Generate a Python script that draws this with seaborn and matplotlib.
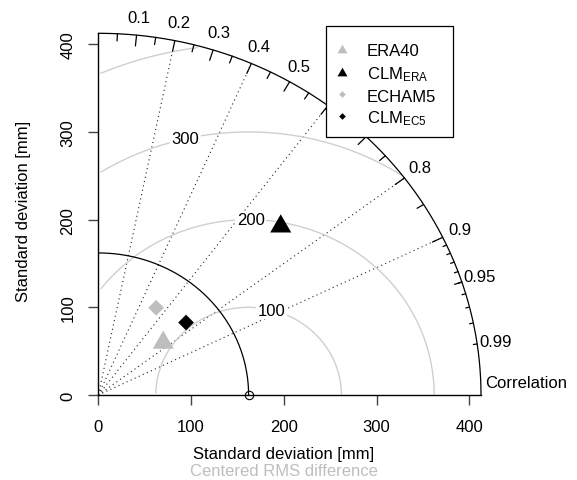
import numpy as np
import pandas as pd
import matplotlib
matplotlib.use("Agg")
import matplotlib.pyplot as plt
from matplotlib.path import Path
from matplotlib.lines import Line2D
from matplotlib.patches import Rectangle
import seaborn as sns

# values
ref_sd = 162.0
names = ["ERA40", "CLM_ERA", "ECHAM5", "CLM_EC5"]
legend_labels = ["ERA40", r"$\mathregular{CLM_{ERA}}$", "ECHAM5", r"$\mathregular{CLM_{EC5}}$"]
sd_vals = [92.0, 275.0, 117.4, 125.6]
cor_vals = [0.761, 0.715, 0.531, 0.753]

gamma_vals = [100, 200, 300, 400]
corr_lines = [0.2, 0.4, 0.6, 0.8, 0.9]
corr_labels = [0.1, 0.2, 0.3, 0.4, 0.5, 0.6, 0.7, 0.8, 0.9, 0.95, 0.99]
sd_ticks = [0, 100, 200, 300, 400]

sns.set_style("white")
plt.rcParams["font.family"] = ["Liberation Sans", "DejaVu Sans"]
plt.rcParams["font.size"] = 12
plt.rcParams["text.color"] = "black"
plt.rcParams["xtick.labelcolor"] = "black"
plt.rcParams["ytick.labelcolor"] = "black"

W, H = 577, 481
fig = plt.figure(figsize=(W / 100, H / 100), dpi=100)


def fpx(x, y):
    # pixel position (from top left) -> figure fraction
    return x / W, 1 - y / H


ax = fig.add_axes([98.3 / W, 85 / H, 382.7 / W, 361.7 / H])

maxsd = 1.5 * max(sd_vals)
gray = "#BEBEBE"
gamma_col = "#CFCFCF"

# dotted correlation rays
for c in corr_lines:
    ax.plot([0, maxsd * c], [0, maxsd * np.sqrt(1 - c ** 2)], color="#222222",
            lw=0.8, ls=(0, (1, 3)), zorder=1)

# centred RMS difference arcs (same sampling as plotrix)
t = np.arange(0, np.pi + 1e-9, 0.03)
drawn = [g for g in gamma_vals if g <= maxsd]
labelpos = np.floor(np.linspace(45, 70, len(drawn))).astype(int) - 1
for gi, g in enumerate(drawn):
    xc = np.cos(t) * g + ref_sd
    yc = np.sin(t) * g
    neg = np.where(xc < 0)[0]
    end = neg.min() - 1 if len(neg) else len(t) - 1
    out = np.where(xc ** 2 + yc ** 2 > maxsd ** 2)[0]
    start = out.max() + 1 if len(out) else 0
    ax.plot(xc[start:end + 1], yc[start:end + 1], color=gamma_col, lw=1.0, zorder=1)
    p = labelpos[gi]
    if xc[p] > 0:
        ax.text(xc[p], yc[p], str(g), ha="center", va="center", fontsize=12, zorder=3,
                bbox=dict(facecolor="white", edgecolor="none", pad=1.0))

# outer arc, reference arc
a = np.linspace(0, np.pi / 2, 200)
ax.plot(np.cos(a) * maxsd, np.sin(a) * maxsd, color="black", lw=0.9, clip_on=False, zorder=2)
ax.plot(np.cos(a) * ref_sd, np.sin(a) * ref_sd, color="black", lw=0.9, zorder=2)

# correlation ticks
for vals, frac in [(np.arange(0.1, 0.91, 0.1), 0.97),
                   (np.arange(0.05, 0.96, 0.1), 0.98),
                   (np.arange(0.91, 0.995, 0.01), 0.99)]:
    for an in np.arccos(vals):
        ax.plot([np.cos(an) * maxsd, np.cos(an) * frac * maxsd],
                [np.sin(an) * maxsd, np.sin(an) * frac * maxsd],
                color="black", lw=0.9, clip_on=False, zorder=2)

# legend box (pixels) -- correlation labels that fall under it are not shown
box = (326, 27.3, 453.3, 137.7)
for c in corr_labels:
    an = np.arccos(c)
    lx, ly = np.cos(an) * 1.05 * maxsd, np.sin(an) * 1.05 * maxsd
    px = 98.3 + lx * 382.7 / maxsd
    py = 396 - ly * 361.7 / maxsd
    if box[0] < px < box[2] and box[1] < py < box[3]:
        continue
    ax.text(lx, ly, f"{c:g}", ha="center", va="center", fontsize=12)
ax.text(maxsd * 1.01, maxsd * 0.021, "Correlation", ha="left", va="baseline", fontsize=12)

# reference point
ax.plot([ref_sd], [0], marker="o", ms=6, mfc="none", mec="black", mew=0.8,
        clip_on=False, zorder=4)

# model points
tri = Path([(0, 1), (0.866, -0.5), (-0.866, -0.5), (0, 1)], closed=True)
dia = Path([(0, 1), (1, 0), (0, -1), (-1, 0), (0, 1)], closed=True)
df = pd.DataFrame({
    "name": names,
    "x": np.array(sd_vals) * np.array(cor_vals),
    "y": np.array(sd_vals) * np.sqrt(1 - np.array(cor_vals) ** 2),
})
pal = dict(zip(names, [gray, "black", gray, "black"]))
mk = dict(zip(names, [tri, tri, dia, dia]))
sz = dict(zip(names, [306, 306, 128, 128]))
sns.scatterplot(data=df, x="x", y="y", hue="name", style="name", size="name",
                palette=pal, markers=mk, sizes=sz, linewidth=0, legend=False,
                ax=ax, zorder=5, clip_on=False)

ax.set_xlim(0, maxsd)
ax.set_ylim(0, maxsd)
ax.set_xlabel("")
ax.set_ylabel("")
sns.despine(ax=ax)
for s in ["left", "bottom"]:
    ax.spines[s].set_color("black")
    ax.spines[s].set_linewidth(1.0)
ax.set_xticks(sd_ticks)
ax.set_yticks(sd_ticks)
ax.tick_params(axis="both", direction="out", length=7.5, width=1.0, color="#444444",
               labelsize=12, labelcolor="black", bottom=True, left=True)
ax.tick_params(axis="x", pad=10)
ax.tick_params(axis="y", pad=9, labelrotation=90)
for lab in ax.get_yticklabels():
    lab.set_verticalalignment("center")

# axis titles
fig.text(*fpx(284, 459), "Standard deviation [mm]", ha="center", va="baseline", fontsize=12)
fig.text(*fpx(284, 476), "Centered RMS difference", ha="center", va="baseline",
         fontsize=12, color=gray)
fig.text(*fpx(28.3, 211), "Standard deviation [mm]", ha="center", va="baseline",
         rotation=90, rotation_mode="anchor", fontsize=12)

# legend
x0, y0 = fpx(box[0], box[3])
fig.add_artist(Rectangle((x0, y0), (box[2] - box[0]) / W, (box[3] - box[1]) / H,
                         transform=fig.transFigure, facecolor="white",
                         edgecolor="black", lw=0.9, zorder=1))
sym_y = [51.4, 73.6, 95, 116.7]
txt_y = [56, 79.3, 101.7, 123.3]
leg_mk = [tri, tri, dia, dia]
leg_ms = [8.3, 8.3, 4.8, 4.8]
for i, lab in enumerate(legend_labels):
    fig.add_artist(Line2D([fpx(341.7, 0)[0]], [fpx(0, sym_y[i])[1]], transform=fig.transFigure,
                          marker=leg_mk[i], ms=leg_ms[i], color=pal[names[i]], lw=0,
                          mew=0, zorder=2))
    fig.text(*fpx(366.7, txt_y[i]), lab, ha="left", va="baseline", fontsize=12, zorder=3)

fig.savefig("out.png", dpi=100)
